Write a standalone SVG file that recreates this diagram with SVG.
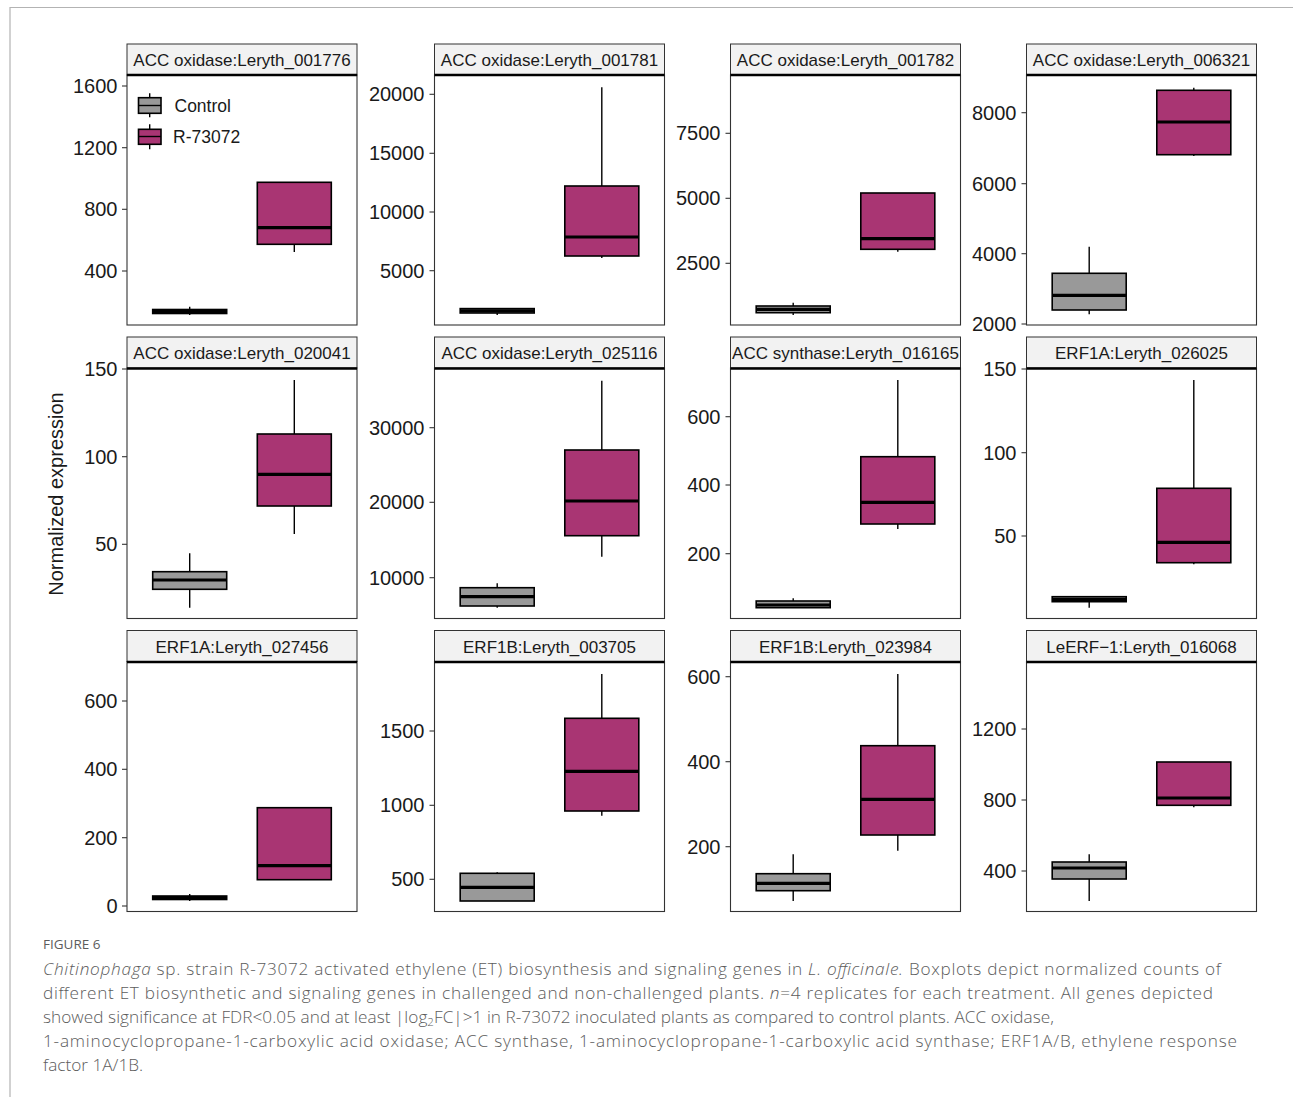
<svg xmlns="http://www.w3.org/2000/svg" width="1293" height="1097" viewBox="0 0 1293 1097">
<style>
.frame{stroke:#b3b3b3;stroke-width:1.2;fill:none}
.strip{fill:#f2f2f2;stroke:#333;stroke-width:1}
.stripline{stroke:#000;stroke-width:2.4}
.panel{fill:#fff;stroke:#333;stroke-width:1.1}
.st{font-family:"Liberation Sans",Arial,sans-serif;font-size:17px;fill:#1a1a1a;text-anchor:middle}
.tl{font-family:"Liberation Sans",Arial,sans-serif;font-size:20px;fill:#1a1a1a;text-anchor:end}
.tk{stroke:#333;stroke-width:1.1}
.wh{stroke:#000;stroke-width:1.4}
.bc{fill:#999999;stroke:#000;stroke-width:1.6}
.br{fill:#a93573;stroke:#000;stroke-width:1.6}
.md{stroke:#000;stroke-width:3.2}
.lg{font-family:"Liberation Sans",Arial,sans-serif;font-size:17.5px;fill:#1a1a1a}
.yl{font-family:"Liberation Sans",Arial,sans-serif;font-size:20px;fill:#1a1a1a;text-anchor:middle}
.cap{font-family:"Open Sans","Noto Sans","Liberation Sans",sans-serif;font-size:17.2px;fill:#5c5c5c;font-weight:300}
.fig{font-family:"Open Sans","Noto Sans","Liberation Sans",sans-serif;font-size:13.5px;fill:#5c5c5c;font-weight:500}
</style>
<rect width="1293" height="1097" fill="#fff"/>
<path class="frame" d="M10,1097 V7.5 H1293"/>

<!-- Row 1 -->
<g id="p1">
<rect class="panel" x="127" y="75" width="230" height="250"/>
<rect class="strip" x="127" y="44" width="230" height="31"/>
<line class="stripline" x1="127" y1="75" x2="357" y2="75"/>
<text class="st" x="242" y="66">ACC oxidase:Leryth_001776</text>
<g class="tk"><line x1="122" y1="86" x2="127" y2="86"/><line x1="122" y1="147.7" x2="127" y2="147.7"/><line x1="122" y1="209.3" x2="127" y2="209.3"/><line x1="122" y1="271" x2="127" y2="271"/></g>
<text class="tl" x="117.5" y="93">1600</text><text class="tl" x="117.5" y="154.7">1200</text><text class="tl" x="117.5" y="216.3">800</text><text class="tl" x="117.5" y="278">400</text>
<line class="wh" x1="189.7" y1="306.7" x2="189.7" y2="315"/>
<rect class="bc" x="152.7" y="309.5" width="74" height="4"/>
<line class="md" x1="152.7" y1="311.5" x2="226.7" y2="311.5"/>
<line class="wh" x1="294.3" y1="244.3" x2="294.3" y2="252"/>
<rect class="br" x="257.3" y="182.3" width="74" height="62"/>
<line class="md" x1="257.3" y1="227.7" x2="331.3" y2="227.7"/>
<g id="legend">
<line class="wh" x1="149.7" y1="93.3" x2="149.7" y2="117.3"/>
<rect class="bc" x="138.5" y="97.7" width="22.5" height="15.6"/>
<line class="wh" x1="138.5" y1="105.5" x2="161" y2="105.5"/>
<text class="lg" x="174.5" y="111.5">Control</text>
<line class="wh" x1="149.7" y1="124.3" x2="149.7" y2="149.3"/>
<rect class="br" x="138.5" y="129.3" width="22.5" height="15"/>
<line class="wh" x1="138.5" y1="136.5" x2="161" y2="136.5"/>
<text class="lg" x="173" y="142.7">R-73072</text>
</g>
</g>

<g id="p2">
<rect class="panel" x="434.5" y="75" width="230" height="250"/>
<rect class="strip" x="434.5" y="44" width="230" height="31"/>
<line class="stripline" x1="434.5" y1="75" x2="664.5" y2="75"/>
<text class="st" x="549.5" y="66">ACC oxidase:Leryth_001781</text>
<g class="tk"><line x1="429.5" y1="94.3" x2="434.5" y2="94.3"/><line x1="429.5" y1="153.3" x2="434.5" y2="153.3"/><line x1="429.5" y1="212" x2="434.5" y2="212"/><line x1="429.5" y1="270.7" x2="434.5" y2="270.7"/></g>
<text class="tl" x="424.5" y="101.3">20000</text><text class="tl" x="424.5" y="160.3">15000</text><text class="tl" x="424.5" y="219">10000</text><text class="tl" x="424.5" y="277.7">5000</text>
<line class="wh" x1="497.2" y1="309" x2="497.2" y2="315"/>
<rect class="bc" x="460.2" y="308.6" width="74" height="4.4"/>
<line class="md" x1="460.2" y1="310.8" x2="534.2" y2="310.8"/>
<line class="wh" x1="601.8" y1="87.3" x2="601.8" y2="258"/>
<rect class="br" x="564.8" y="186" width="74" height="70"/>
<line class="md" x1="564.8" y1="237" x2="638.8" y2="237"/>
</g>

<g id="p3">
<rect class="panel" x="730.5" y="75" width="230" height="250"/>
<rect class="strip" x="730.5" y="44" width="230" height="31"/>
<line class="stripline" x1="730.5" y1="75" x2="960.5" y2="75"/>
<text class="st" x="845.5" y="66">ACC oxidase:Leryth_001782</text>
<g class="tk"><line x1="725.5" y1="133.3" x2="730.5" y2="133.3"/><line x1="725.5" y1="198.3" x2="730.5" y2="198.3"/><line x1="725.5" y1="263.3" x2="730.5" y2="263.3"/></g>
<text class="tl" x="720.5" y="140.3">7500</text><text class="tl" x="720.5" y="205.3">5000</text><text class="tl" x="720.5" y="270.3">2500</text>
<line class="wh" x1="793.2" y1="302.7" x2="793.2" y2="315"/>
<rect class="bc" x="756.2" y="306" width="74" height="6.7"/>
<line class="md" x1="756.2" y1="309.4" x2="830.2" y2="309.4"/>
<line class="wh" x1="897.8" y1="249.3" x2="897.8" y2="251.7"/>
<rect class="br" x="860.8" y="193" width="74" height="56.3"/>
<line class="md" x1="860.8" y1="238.7" x2="934.8" y2="238.7"/>
</g>

<g id="p4">
<rect class="panel" x="1026.5" y="75" width="230" height="250"/>
<rect class="strip" x="1026.5" y="44" width="230" height="31"/>
<line class="stripline" x1="1026.5" y1="75" x2="1256.5" y2="75"/>
<text class="st" x="1141.5" y="66">ACC oxidase:Leryth_006321</text>
<g class="tk"><line x1="1021.5" y1="112.7" x2="1026.5" y2="112.7"/><line x1="1021.5" y1="183.7" x2="1026.5" y2="183.7"/><line x1="1021.5" y1="253.7" x2="1026.5" y2="253.7"/><line x1="1021.5" y1="324" x2="1026.5" y2="324"/></g>
<text class="tl" x="1016.5" y="119.7">8000</text><text class="tl" x="1016.5" y="190.7">6000</text><text class="tl" x="1016.5" y="260.7">4000</text><text class="tl" x="1016.5" y="331">2000</text>
<line class="wh" x1="1089.2" y1="246.7" x2="1089.2" y2="314.3"/>
<rect class="bc" x="1052.2" y="273.3" width="74" height="36.7"/>
<line class="md" x1="1052.2" y1="295.3" x2="1126.2" y2="295.3"/>
<line class="wh" x1="1193.8" y1="87.7" x2="1193.8" y2="156"/>
<rect class="br" x="1156.8" y="90.3" width="74" height="64.4"/>
<line class="md" x1="1156.8" y1="122" x2="1230.8" y2="122"/>
</g>

<!-- Row 2 -->
<g id="p5">
<rect class="panel" x="127" y="368" width="230" height="250.5"/>
<rect class="strip" x="127" y="337" width="230" height="31"/>
<line class="stripline" x1="127" y1="368.5" x2="357" y2="368.5"/>
<text class="st" x="242" y="359">ACC oxidase:Leryth_020041</text>
<g class="tk"><line x1="122" y1="369" x2="127" y2="369"/><line x1="122" y1="456.7" x2="127" y2="456.7"/><line x1="122" y1="544.3" x2="127" y2="544.3"/></g>
<text class="tl" x="117.5" y="376">150</text><text class="tl" x="117.5" y="463.7">100</text><text class="tl" x="117.5" y="551.3">50</text>
<line class="wh" x1="189.7" y1="553.3" x2="189.7" y2="607.7"/>
<rect class="bc" x="152.7" y="571.7" width="74" height="17.6"/>
<line class="md" x1="152.7" y1="580" x2="226.7" y2="580"/>
<line class="wh" x1="294.3" y1="380" x2="294.3" y2="534"/>
<rect class="br" x="257.3" y="434" width="74" height="72"/>
<line class="md" x1="257.3" y1="474.3" x2="331.3" y2="474.3"/>
</g>

<g id="p6">
<rect class="panel" x="434.5" y="368" width="230" height="250.5"/>
<rect class="strip" x="434.5" y="337" width="230" height="31"/>
<line class="stripline" x1="434.5" y1="368.5" x2="664.5" y2="368.5"/>
<text class="st" x="549.5" y="359">ACC oxidase:Leryth_025116</text>
<g class="tk"><line x1="429.5" y1="427.7" x2="434.5" y2="427.7"/><line x1="429.5" y1="502.3" x2="434.5" y2="502.3"/><line x1="429.5" y1="577.7" x2="434.5" y2="577.7"/></g>
<text class="tl" x="424.5" y="434.7">30000</text><text class="tl" x="424.5" y="509.3">20000</text><text class="tl" x="424.5" y="584.7">10000</text>
<line class="wh" x1="497.2" y1="583.3" x2="497.2" y2="607.7"/>
<rect class="bc" x="460.2" y="587.7" width="74" height="18.3"/>
<line class="md" x1="460.2" y1="596.7" x2="534.2" y2="596.7"/>
<line class="wh" x1="601.8" y1="380.7" x2="601.8" y2="556.7"/>
<rect class="br" x="564.8" y="450" width="74" height="85.7"/>
<line class="md" x1="564.8" y1="501" x2="638.8" y2="501"/>
</g>

<g id="p7">
<rect class="panel" x="730.5" y="368" width="230" height="250.5"/>
<rect class="strip" x="730.5" y="337" width="230" height="31"/>
<line class="stripline" x1="730.5" y1="368.5" x2="960.5" y2="368.5"/>
<text class="st" x="845.5" y="359">ACC synthase:Leryth_016165</text>
<g class="tk"><line x1="725.5" y1="416.7" x2="730.5" y2="416.7"/><line x1="725.5" y1="485" x2="730.5" y2="485"/><line x1="725.5" y1="553.7" x2="730.5" y2="553.7"/></g>
<text class="tl" x="720.5" y="423.7">600</text><text class="tl" x="720.5" y="492">400</text><text class="tl" x="720.5" y="560.7">200</text>
<line class="wh" x1="793.2" y1="598.3" x2="793.2" y2="608"/>
<rect class="bc" x="756.2" y="601" width="74" height="6.7"/>
<line class="md" x1="756.2" y1="605" x2="830.2" y2="605"/>
<line class="wh" x1="897.8" y1="380" x2="897.8" y2="529"/>
<rect class="br" x="860.8" y="456.7" width="74" height="67.3"/>
<line class="md" x1="860.8" y1="502.3" x2="934.8" y2="502.3"/>
</g>

<g id="p8">
<rect class="panel" x="1026.5" y="368" width="230" height="250.5"/>
<rect class="strip" x="1026.5" y="337" width="230" height="31"/>
<line class="stripline" x1="1026.5" y1="368.5" x2="1256.5" y2="368.5"/>
<text class="st" x="1141.5" y="359">ERF1A:Leryth_026025</text>
<g class="tk"><line x1="1021.5" y1="369" x2="1026.5" y2="369"/><line x1="1021.5" y1="452.7" x2="1026.5" y2="452.7"/><line x1="1021.5" y1="536" x2="1026.5" y2="536"/></g>
<text class="tl" x="1016.5" y="376">150</text><text class="tl" x="1016.5" y="459.7">100</text><text class="tl" x="1016.5" y="543">50</text>
<line class="wh" x1="1089.2" y1="596" x2="1089.2" y2="607.7"/>
<rect class="bc" x="1052.2" y="596.7" width="74" height="5"/>
<line class="md" x1="1052.2" y1="599.3" x2="1126.2" y2="599.3"/>
<line class="wh" x1="1193.8" y1="380" x2="1193.8" y2="564.3"/>
<rect class="br" x="1156.8" y="488.3" width="74" height="74.4"/>
<line class="md" x1="1156.8" y1="542.3" x2="1230.8" y2="542.3"/>
</g>

<!-- Row 3 -->
<g id="p9">
<rect class="panel" x="127" y="661.5" width="230" height="250"/>
<rect class="strip" x="127" y="630.5" width="230" height="31"/>
<line class="stripline" x1="127" y1="662" x2="357" y2="662"/>
<text class="st" x="242" y="652.5">ERF1A:Leryth_027456</text>
<g class="tk"><line x1="122" y1="701" x2="127" y2="701"/><line x1="122" y1="769.3" x2="127" y2="769.3"/><line x1="122" y1="837.7" x2="127" y2="837.7"/><line x1="122" y1="906" x2="127" y2="906"/></g>
<text class="tl" x="117.5" y="708">600</text><text class="tl" x="117.5" y="776.3">400</text><text class="tl" x="117.5" y="844.7">200</text><text class="tl" x="117.5" y="913">0</text>
<line class="wh" x1="189.7" y1="894" x2="189.7" y2="901"/>
<rect class="bc" x="152.7" y="896" width="74" height="3.5"/>
<line class="md" x1="152.7" y1="897.7" x2="226.7" y2="897.7"/>
<rect class="br" x="257.3" y="807.7" width="74" height="72"/>
<line class="md" x1="257.3" y1="865.7" x2="331.3" y2="865.7"/>
</g>

<g id="p10">
<rect class="panel" x="434.5" y="661.5" width="230" height="250"/>
<rect class="strip" x="434.5" y="630.5" width="230" height="31"/>
<line class="stripline" x1="434.5" y1="662" x2="664.5" y2="662"/>
<text class="st" x="549.5" y="652.5">ERF1B:Leryth_003705</text>
<g class="tk"><line x1="429.5" y1="731" x2="434.5" y2="731"/><line x1="429.5" y1="805.3" x2="434.5" y2="805.3"/><line x1="429.5" y1="879.3" x2="434.5" y2="879.3"/></g>
<text class="tl" x="424.5" y="738">1500</text><text class="tl" x="424.5" y="812.3">1000</text><text class="tl" x="424.5" y="886.3">500</text>
<line class="wh" x1="497.2" y1="872.3" x2="497.2" y2="874"/>
<rect class="bc" x="460.2" y="873.3" width="74" height="27.7"/>
<line class="md" x1="460.2" y1="887.3" x2="534.2" y2="887.3"/>
<line class="wh" x1="601.8" y1="674" x2="601.8" y2="815.7"/>
<rect class="br" x="564.8" y="718.3" width="74" height="92.7"/>
<line class="md" x1="564.8" y1="771.3" x2="638.8" y2="771.3"/>
</g>

<g id="p11">
<rect class="panel" x="730.5" y="661.5" width="230" height="250"/>
<rect class="strip" x="730.5" y="630.5" width="230" height="31"/>
<line class="stripline" x1="730.5" y1="662" x2="960.5" y2="662"/>
<text class="st" x="845.5" y="652.5">ERF1B:Leryth_023984</text>
<g class="tk"><line x1="725.5" y1="676.7" x2="730.5" y2="676.7"/><line x1="725.5" y1="761.7" x2="730.5" y2="761.7"/><line x1="725.5" y1="846.7" x2="730.5" y2="846.7"/></g>
<text class="tl" x="720.5" y="683.7">600</text><text class="tl" x="720.5" y="768.7">400</text><text class="tl" x="720.5" y="853.7">200</text>
<line class="wh" x1="793.2" y1="854.3" x2="793.2" y2="901"/>
<rect class="bc" x="756.2" y="873.7" width="74" height="17"/>
<line class="md" x1="756.2" y1="883.3" x2="830.2" y2="883.3"/>
<line class="wh" x1="897.8" y1="674" x2="897.8" y2="850.7"/>
<rect class="br" x="860.8" y="745.7" width="74" height="89.3"/>
<line class="md" x1="860.8" y1="799.3" x2="934.8" y2="799.3"/>
</g>

<g id="p12">
<rect class="panel" x="1026.5" y="661.5" width="230" height="250"/>
<rect class="strip" x="1026.5" y="630.5" width="230" height="31"/>
<line class="stripline" x1="1026.5" y1="662" x2="1256.5" y2="662"/>
<text class="st" x="1141.5" y="652.5">LeERF−1:Leryth_016068</text>
<g class="tk"><line x1="1021.5" y1="729" x2="1026.5" y2="729"/><line x1="1021.5" y1="800" x2="1026.5" y2="800"/><line x1="1021.5" y1="871" x2="1026.5" y2="871"/></g>
<text class="tl" x="1016.5" y="736">1200</text><text class="tl" x="1016.5" y="807">800</text><text class="tl" x="1016.5" y="878">400</text>
<line class="wh" x1="1089.2" y1="854.3" x2="1089.2" y2="901"/>
<rect class="bc" x="1052.2" y="862" width="74" height="17"/>
<line class="md" x1="1052.2" y1="868" x2="1126.2" y2="868"/>
<line class="wh" x1="1193.8" y1="805.3" x2="1193.8" y2="807.3"/>
<rect class="br" x="1156.8" y="762" width="74" height="43.3"/>
<line class="md" x1="1156.8" y1="798" x2="1230.8" y2="798"/>
</g>

<text class="yl" transform="translate(63,494) rotate(-90)">Normalized expression</text>

<g id="caption">
<text class="fig" x="43" y="949">FIGURE 6</text>
<text class="cap" x="43" y="975" textLength="1178" lengthAdjust="spacing"><tspan font-style="italic">Chitinophaga</tspan> sp. strain R-73072 activated ethylene (ET) biosynthesis and signaling genes in <tspan font-style="italic">L. officinale.</tspan> Boxplots depict normalized counts of</text>
<text class="cap" x="43" y="999" textLength="1170" lengthAdjust="spacing">different ET biosynthetic and signaling genes in challenged and non-challenged plants. <tspan font-style="italic">n</tspan>=4 replicates for each treatment. All genes depicted</text>
<text class="cap" x="43" y="1023" textLength="1011" lengthAdjust="spacing">showed significance at FDR&lt;0.05 and at least |log<tspan font-size="11.5px" dy="3">2</tspan><tspan dy="-3">FC|&gt;1 in R-73072 inoculated plants as compared to control plants. ACC oxidase,</tspan></text>
<text class="cap" x="43" y="1047" textLength="1194" lengthAdjust="spacing">1-aminocyclopropane-1-carboxylic acid oxidase; ACC synthase, 1-aminocyclopropane-1-carboxylic acid synthase; ERF1A/B, ethylene response</text>
<text class="cap" x="43" y="1071">factor 1A/1B.</text>
</g>
</svg>
